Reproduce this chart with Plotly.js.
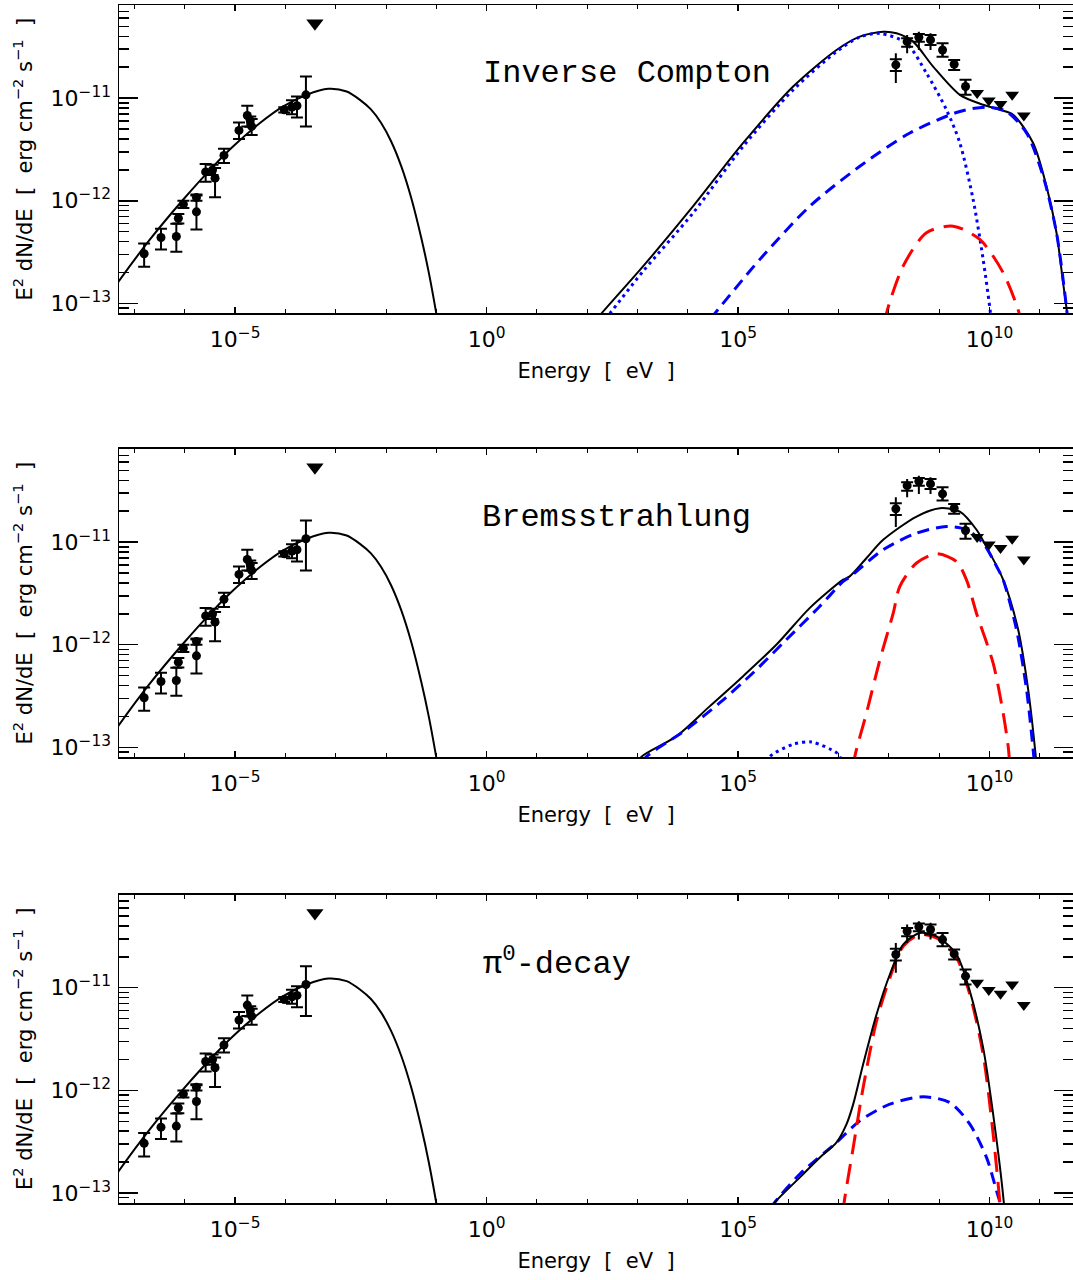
<!DOCTYPE html>
<html>
<head>
<meta charset="utf-8">
<script src="https://cdn.plot.ly/plotly-3.0.1.min.js"></script>
<style>html,body{margin:0;padding:0;background:#fff;}#chart{width:1073px;height:1280px;}</style>
</head>
<body>
<div id="chart"></div>
<script>
// ---------------- DATA (log10 values) ----------------
// Radio data points
const radioLogE   = [-6.81, -6.475, -6.17, -6.13, -6.03, -5.77, -5.77, -5.587, -5.45, -5.40, -5.223, -4.924, -4.759, -4.70, -4.672, -4.024, -3.87, -3.771, -3.593];
const radioLogF   = [-12.516, -12.358, -12.348, -12.17, -12.034, -11.969, -12.108, -11.719, -11.70, -11.78, -11.558, -11.315, -11.169, -11.22, -11.276, -11.114, -11.088, -11.075, -10.968];
const radioLogFHi = [-12.416, -12.273, -12.224, -12.128, -12.00, -11.94, -11.95, -11.641, -11.65, -11.68, -11.493, -11.237, -11.075, -11.18, -11.204, -11.09, -11.02, -10.985, -10.79];
const radioLogFLo = [-12.643, -12.474, -12.497, -12.222, -12.07, -12.00, -12.28, -11.816, -11.75, -11.966, -11.632, -11.398, -11.276, -11.28, -11.36, -11.14, -11.157, -11.19, -11.276];
// Radio upper limit
const radioULLogE = [-3.414];
const radioULLogF = [-10.271];
// Gamma-ray data points
const fermiLogE   = [8.137, 8.362, 8.595, 8.827, 9.066, 9.297, 9.523];
const fermiLogF   = [-10.676, -10.45, -10.407, -10.433, -10.531, -10.670, -10.887];
const fermiCapHi  = [-10.621, -10.417, -10.375, -10.385, -10.466, -10.628, -10.822];
const fermiCapLo  = [-10.735, -10.499, -10.45, -10.482, -10.596, -10.725, -10.968];
const fermiBarHi  = [-10.563, -10.385, -10.353, -10.368, -10.466, -10.628, -10.822];
const fermiBarLo  = [-10.854, -10.563, -10.531, -10.531, -10.596, -10.725, -10.968];
// Gamma-ray upper limits
const fermiULLogE = [9.754, 9.986, 10.219, 10.45, 10.682];
const fermiULLogF = [-10.951, -11.023, -11.058, -10.968, -11.169];
// Synchrotron model (all panels)
const syncLogE = [-7.5, -7.31, -6.694, -6.032, -5.435, -5.038, -4.507, -4.044, -3.579, -3.149, -2.783, -2.519, -2.3, -2.1, -1.9, -1.7, -1.5, -1.3, -1.15, -1.0, -0.9];
const syncLogF = [-12.92, -12.782, -12.377, -11.988, -11.665, -11.47, -11.243, -11.081, -10.968, -10.910, -10.936, -11.017, -11.11, -11.24, -11.42, -11.66, -11.97, -12.36, -12.70, -13.10, -13.40];
// Panel 1: Inverse Compton
const icTotalLogE = [2.2, 2.286, 3.114, 4.107, 5.101, 6.095, 6.958, 7.421, 7.885, 8.151, 8.481, 8.879, 9.41, 9.873, 10.205, 10.47, 10.867, 11.133, 11.332, 11.463, 11.543, 11.56];
const icTotalLogF = [-13.15, -13.097, -12.637, -12.053, -11.437, -10.887, -10.531, -10.401, -10.353, -10.368, -10.45, -10.693, -10.968, -11.065, -11.114, -11.162, -11.437, -11.859, -12.312, -12.798, -13.097, -13.2];
const icDotLogE = [2.36, 2.451, 3.114, 4.107, 5.101, 6.095, 6.958, 7.421, 7.819, 8.348, 8.746, 9.144, 9.41, 9.674, 9.873, 10.02, 10.04];
const icDotLogF = [-13.15, -13.097, -12.685, -12.118, -11.47, -10.92, -10.548, -10.405, -10.37, -10.466, -10.757, -11.114, -11.437, -11.988, -12.571, -13.097, -13.2];
const icDashLogE = [4.45, 4.539, 5.433, 6.427, 7.421, 8.416, 9.41, 9.94, 10.338, 10.736, 11.066, 11.332, 11.543, 11.56];
const icDashLogF = [-13.15, -13.097, -12.571, -12.053, -11.664, -11.34, -11.13, -11.088, -11.13, -11.34, -11.761, -12.312, -13.097, -13.2];
const icRedLogE = [7.92, 7.951, 8.282, 8.746, 9.277, 9.807, 10.271, 10.589, 10.61];
const icRedLogF = [-13.2, -13.097, -12.637, -12.312, -12.248, -12.377, -12.701, -13.097, -13.2];
// Panel 2: Bremsstrahlung
const brTotalLogE = [3.0, 3.081, 3.777, 4.439, 5.101, 5.765, 6.428, 7.09, 7.22, 7.555, 7.885, 8.549, 9.012, 9.41, 9.742, 10.006, 10.271, 10.569, 10.768, 10.92, 10.94];
const brTotalLogF = [-13.15, -13.09, -12.89, -12.598, -12.306, -11.998, -11.641, -11.366, -11.334, -11.155, -10.978, -10.751, -10.67, -10.703, -10.88, -11.107, -11.366, -11.852, -12.435, -13.09, -13.2];
const brDashLogE = [3.1, 3.18, 3.976, 4.638, 5.3, 5.964, 6.627, 7.09, 7.22, 7.885, 8.549, 9.146, 9.543, 9.873, 10.14, 10.27, 10.536, 10.736, 10.881, 10.9];
const brDashLogF = [-13.15, -13.09, -12.825, -12.565, -12.273, -11.949, -11.625, -11.383, -11.34, -11.075, -10.913, -10.848, -10.88, -11.01, -11.237, -11.366, -11.852, -12.435, -13.09, -13.2];
const brDotLogE = [5.6, 5.632, 6.095, 6.461, 6.958, 7.024, 7.05];
const brDotLogF = [-13.15, -13.09, -12.97, -12.948, -13.051, -13.09, -13.15];
const brRedLogE = [7.3, 7.322, 7.555, 7.819, 8.084, 8.217, 8.549, 8.946, 9.34, 9.54, 9.742, 10.072, 10.271, 10.371, 10.39, 10.4];
const brRedLogF = [-13.2, -13.09, -12.663, -12.148, -11.695, -11.431, -11.204, -11.114, -11.188, -11.366, -11.695, -12.18, -12.666, -12.99, -13.09, -13.2];
// Panel 3: pi0-decay
const piTotalLogE = [5.65, 5.732, 6.229, 6.627, 6.958, 7.157, 7.29, 7.487, 7.753, 8.018, 8.282, 8.614, 8.946, 9.344, 9.608, 9.873, 10.072, 10.284, 10.3];
const piTotalLogF = [-13.15, -13.09, -12.847, -12.653, -12.507, -12.329, -12.134, -11.745, -11.26, -10.871, -10.579, -10.466, -10.499, -10.676, -11.033, -11.584, -12.231, -13.09, -13.2];
const piRedLogE = [7.09, 7.11, 7.29, 7.487, 7.753, 8.018, 8.282, 8.614, 8.946, 9.344, 9.608, 9.873, 10.072, 10.205, 10.22];
const piRedLogF = [-13.2, -13.09, -12.556, -11.973, -11.325, -10.904, -10.596, -10.482, -10.515, -10.709, -11.065, -11.648, -12.426, -13.09, -13.2];
const piBlueLogE = [5.65, 5.732, 6.229, 6.958, 7.421, 8.018, 8.68, 9.21, 9.608, 9.94, 10.139, 10.205, 10.22];
const piBlueLogF = [-13.15, -13.09, -12.815, -12.507, -12.297, -12.134, -12.063, -12.118, -12.329, -12.653, -12.977, -13.09, -13.15];
// Tick labels
const xTickVals = [1e-5, 1, 1e5, 1e10];
const xTickText = ['10<sup>−5</sup>', '10<sup>0</sup>', '10<sup>5</sup>', '10<sup>10</sup>'];
const yTickVals = [1e-13, 1e-12, 1e-11];
const yTickText = ['10<sup>−13</sup>', '10<sup>−12</sup>', '10<sup>−11</sup>'];
const panelLabels = ['Inverse Compton', 'Bremsstrahlung', 'π<sup>0</sup>-decay'];
const xTitle = 'Energy\u00a0 [\u00a0 eV\u00a0 ]';
const yTitle = 'E<sup>2</sup> dN/dE\u00a0 [\u00a0 erg cm<sup>−2</sup> s<sup>−1</sup>\u00a0 ]';

// ---------------- BUILD ----------------
const p10 = a => a.map(v => Math.pow(10, v));
const BLUE = '#0000ff', RED = '#ff0000';
const xMinor = [], yMinor = [];
for (let n = -8; n <= 12; n++) xMinor.push(Math.pow(10, n));
for (let n = -14; n <= -10; n++) for (let k = 2; k <= 9; k++) yMinor.push(k * Math.pow(10, n));

const models = [
  [
    {x: icTotalLogE, y: icTotalLogF, color: 'black', width: 2, dash: 'solid'},
    {x: icDotLogE, y: icDotLogF, color: BLUE, width: 3, dash: '3px,4px'},
    {x: icDashLogE, y: icDashLogF, color: BLUE, width: 3, dash: '12px,7px'},
    {x: icRedLogE, y: icRedLogF, color: RED, width: 3, dash: '20px,10px'}
  ],
  [
    {x: brTotalLogE, y: brTotalLogF, color: 'black', width: 2, dash: 'solid'},
    {x: brDashLogE, y: brDashLogF, color: BLUE, width: 3, dash: '12px,7px'},
    {x: brDotLogE, y: brDotLogF, color: BLUE, width: 3, dash: '3px,4px'},
    {x: brRedLogE, y: brRedLogF, color: RED, width: 3, dash: '20px,10px'}
  ],
  [
    {x: piBlueLogE, y: piBlueLogF, color: BLUE, width: 3, dash: '12px,7px'},
    {x: piRedLogE, y: piRedLogF, color: RED, width: 3, dash: '20px,10px'},
    {x: piTotalLogE, y: piTotalLogF, color: 'black', width: 2, dash: 'solid'}
  ]
];

const traces = [];
for (let i = 0; i < 3; i++) {
  const xa = i === 0 ? 'x' : 'x' + (i + 1);
  const ya = i === 0 ? 'y' : 'y' + (i + 1);
  traces.push({x: p10(syncLogE), y: p10(syncLogF), xaxis: xa, yaxis: ya, mode: 'lines',
    line: {color: 'black', width: 2, shape: 'spline', smoothing: 0.8}, hoverinfo: 'skip'});
  models[i].forEach(m => traces.push({x: p10(m.x), y: p10(m.y), xaxis: xa, yaxis: ya, mode: 'lines',
    line: {color: m.color, width: m.width, dash: m.dash, shape: 'spline', smoothing: 0.8}, hoverinfo: 'skip'}));
  const rF = p10(radioLogF);
  traces.push({x: p10(radioLogE), y: rF, xaxis: xa, yaxis: ya, mode: 'markers',
    marker: {symbol: 'circle', size: 9, color: 'black'},
    error_y: {type: 'data', symmetric: false,
      array: p10(radioLogFHi).map((v, j) => v - rF[j]),
      arrayminus: p10(radioLogFLo).map((v, j) => rF[j] - v),
      color: 'black', thickness: 2, width: 6}});
  traces.push({x: p10(radioULLogE), y: p10(radioULLogF), xaxis: xa, yaxis: ya, mode: 'markers',
    marker: {symbol: 'triangle-down', size: 15, color: 'black'}});
  const fF = p10(fermiLogF);
  traces.push({x: p10(fermiLogE), y: fF, xaxis: xa, yaxis: ya, mode: 'markers',
    marker: {size: 0.1, color: 'rgba(0,0,0,0)'},
    error_y: {type: 'data', symmetric: false,
      array: p10(fermiBarHi).map((v, j) => v - fF[j]),
      arrayminus: p10(fermiBarLo).map((v, j) => fF[j] - v),
      color: 'black', thickness: 2, width: 0}});
  traces.push({x: p10(fermiLogE), y: fF, xaxis: xa, yaxis: ya, mode: 'markers',
    marker: {symbol: 'circle', size: 9, color: 'black'},
    error_y: {type: 'data', symmetric: false,
      array: p10(fermiCapHi).map((v, j) => v - fF[j]),
      arrayminus: p10(fermiCapLo).map((v, j) => fF[j] - v),
      color: 'black', thickness: 2, width: 6}});
  traces.push({x: p10(fermiULLogE), y: p10(fermiULLogF), xaxis: xa, yaxis: ya, mode: 'markers',
    marker: {symbol: 'triangle-down', size: 12, color: 'black'}});
}

const FONT = 'DejaVu Sans, Liberation Sans, sans-serif';
function xAxis(anchor) {
  return {type: 'log', range: [-7.31, 11.66], anchor: anchor,
    tickmode: 'array', tickvals: xTickVals, ticktext: xTickText,
    ticks: 'inside', ticklen: 6, tickwidth: 1.5, tickcolor: 'black',
    minor: {tickmode: 'array', tickvals: xMinor, ticks: 'inside', ticklen: 4, tickwidth: 1, tickcolor: 'black', showgrid: false},
    showline: true, linecolor: 'black', linewidth: 1.5, mirror: 'allticks',
    showgrid: false, zeroline: false, automargin: false, ticklabelstandoff: 6,
    tickfont: {family: FONT, size: 22, color: 'black'},
    title: {text: xTitle, font: {family: FONT, size: 21, color: 'black'}, standoff: 12}};
}
function yAxis(anchor, dom) {
  return {type: 'log', range: [-13.097, -10.093], anchor: anchor, domain: dom,
    tickmode: 'array', tickvals: yTickVals, ticktext: yTickText,
    ticks: 'inside', ticklen: 19, tickwidth: 1.5, tickcolor: 'black',
    minor: {tickmode: 'array', tickvals: yMinor, ticks: 'inside', ticklen: 10, tickwidth: 1.5, tickcolor: 'black', showgrid: false},
    showline: true, linecolor: 'black', linewidth: 1.5, mirror: 'allticks',
    showgrid: false, zeroline: false, automargin: false, ticklabelstandoff: 2,
    tickfont: {family: FONT, size: 22, color: 'black'},
    title: {text: yTitle, font: {family: FONT, size: 21, color: 'black'}, standoff: 12}};
}

const annPos = [[0.5325, 0.9432], [0.521, 0.5726], [0.4586, 0.2012]];
const layout = {
  width: 1073, height: 1280,
  margin: {l: 119, r: 0, t: 5, b: 77, pad: 0},
  paper_bgcolor: 'white', plot_bgcolor: 'white',
  showlegend: false,
  xaxis: xAxis('y'), xaxis2: xAxis('y2'), xaxis3: xAxis('y3'),
  yaxis: yAxis('x', [0.7426, 1.0]),
  yaxis2: yAxis('x2', [0.3720, 0.6294]),
  yaxis3: yAxis('x3', [0.0, 0.2574]),
  annotations: panelLabels.map((t, i) => ({text: t, xref: 'paper', yref: 'paper',
    x: annPos[i][0], y: annPos[i][1], xanchor: 'center', yanchor: 'middle', showarrow: false,
    font: {family: 'Liberation Mono, Courier New, monospace', size: 32, color: 'black'}}))
};

Plotly.newPlot('chart', traces, layout, {displayModeBar: false, staticPlot: true});
</script>
</body>
</html>
